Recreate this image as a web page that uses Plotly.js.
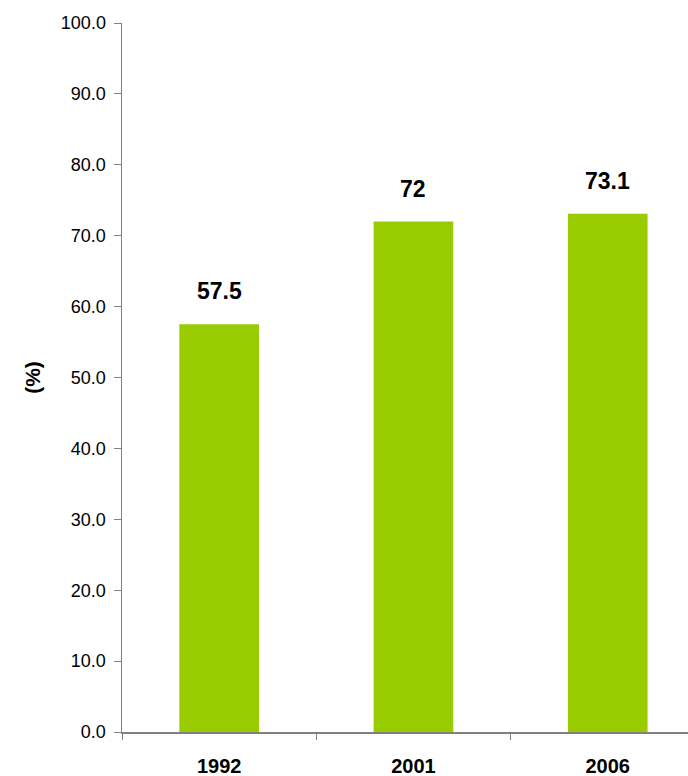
<!DOCTYPE html>
<html><head><meta charset="utf-8">
<script src="https://cdn.plot.ly/plotly-3.0.1.min.js"></script>
<style>html,body{margin:0;padding:0;background:#fff}</style>
</head><body>
<div id="chart" style="width:688px;height:776px"></div>
<script>
const years = ["1992", "2001", "2006"];
const values = [57.5, 72, 73.1];
const labels = ["57.5", "72", "73.1"];

const trace = {
  type: "bar",
  x: years,
  y: values,
  marker: {color: "#99CC00"},
  hoverinfo: "none"
};

const annotations = years.map((yr, i) => ({
  xref: "x", yref: "y",
  x: i, y: values[i], text: "<b>" + labels[i] + "</b>",
  showarrow: false, yanchor: "middle", xanchor: "center", yshift: 33,
  font: {family: "Arial, Liberation Sans, sans-serif", size: 23, color: "#000"}
}));

const layout = {
  width: 688, height: 776,
  margin: {l: 122, r: 0, t: 23, b: 44},
  paper_bgcolor: "#fff", plot_bgcolor: "#fff",
  showlegend: false,
  bargap: 0.59,
  xaxis: {
    type: "category",
    range: [-0.5, 2.413],
    showline: true, linecolor: "#808080", linewidth: 1.5,
    ticks: "outside", tickson: "boundaries", ticklen: 6, tickcolor: "#808080",
    ticklabelstandoff: 15,
    tickfont: {family: "Arial, Liberation Sans, sans-serif", size: 20, color: "#000", weight: "bold"},
    showgrid: false, zeroline: false, fixedrange: true
  },
  yaxis: {
    range: [0, 100],
    tick0: 0, dtick: 10, tickformat: ".1f",
    showline: true, linecolor: "#808080", linewidth: 1.5,
    ticks: "outside", ticklen: 7, tickcolor: "#808080",
    ticklabelstandoff: 4,
    tickfont: {family: "Arial, Liberation Sans, sans-serif", size: 18, color: "#000"},
    showgrid: false, zeroline: false, fixedrange: true,
    title: {text: "<b>(%)</b>", standoff: 14,
      font: {family: "Arial, Liberation Sans, sans-serif", size: 21, color: "#000"}}
  },
  annotations: annotations
};

Plotly.newPlot("chart", [trace], layout, {displayModeBar: false, staticPlot: true});
</script>
</body></html>
